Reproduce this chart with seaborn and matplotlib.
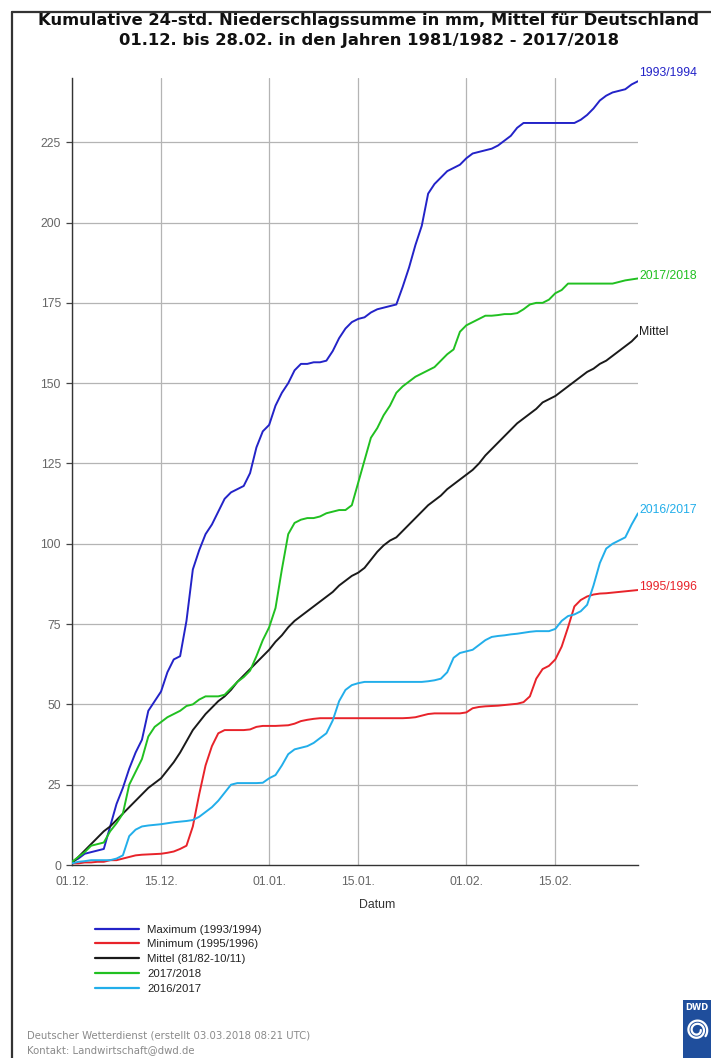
import numpy as np
import pandas as pd
import matplotlib
matplotlib.use("Agg")
import matplotlib.pyplot as plt
from matplotlib.lines import Line2D
from matplotlib.patches import Rectangle
import seaborn as sns

# Day index 0 = 01.12., 89 = 28.02.
days = list(range(90))

maximum_1993_1994 = [
    1, 2, 3.5, 4, 4.5, 5, 12, 19, 24, 30,
    35, 39, 48, 51, 54, 60, 64, 65, 76, 92,
    98, 103, 106, 110, 114, 116, 117, 118, 122, 130,
    135, 137, 143, 147, 150, 154, 156, 156, 156.5, 156.5,
    157, 160, 164, 167, 169, 170, 170.5, 172, 173, 173.5,
    174, 174.5, 180, 186, 193, 199, 209, 212, 214, 216,
    217, 218, 220, 221.5, 222, 222.5, 223, 224, 225.5, 227,
    229.5, 231, 231, 231, 231, 231, 231, 231, 231, 231,
    232, 233.5, 235.5, 238, 239.5, 240.5, 241, 241.5, 243, 244,
]

minimum_1995_1996 = [
    0.5, 0.5, 0.8, 0.8, 1, 1, 1.5, 1.5, 2, 2.5,
    3, 3.2, 3.3, 3.4, 3.5, 3.8, 4.2, 5, 6, 12,
    22, 31, 37, 41, 42, 42, 42, 42, 42.2, 43,
    43.3, 43.3, 43.3, 43.4, 43.5, 44, 44.8, 45.2, 45.5, 45.7,
    45.7, 45.7, 45.7, 45.7, 45.7, 45.7, 45.7, 45.7, 45.7, 45.7,
    45.7, 45.7, 45.7, 45.8, 46, 46.5, 47, 47.2, 47.2, 47.2,
    47.2, 47.2, 47.5, 48.8, 49.2, 49.4, 49.5, 49.6, 49.8, 50,
    50.2, 50.7, 52.5, 58, 61, 62, 64, 68, 74, 80.5,
    82.5, 83.6, 84.2, 84.5, 84.6, 84.8, 85, 85.2, 85.4, 85.6,
]

mittel_81_11 = [
    0.5, 2.5, 4.5, 6.5, 8.5, 10.5, 12, 14, 16, 18,
    20, 22, 24, 25.5, 27, 29.5, 32, 35, 38.5, 42,
    44.5, 47, 49, 51, 52.5, 54.5, 57, 59, 61, 63,
    65, 67, 69.5, 71.5, 74, 76, 77.5, 79, 80.5, 82,
    83.5, 85, 87, 88.5, 90, 91, 92.5, 95, 97.5, 99.5,
    101, 102, 104, 106, 108, 110, 112, 113.5, 115, 117,
    118.5, 120, 121.5, 123, 125, 127.5, 129.5, 131.5, 133.5, 135.5,
    137.5, 139, 140.5, 142, 144, 145, 146, 147.5, 149, 150.5,
    152, 153.5, 154.5, 156, 157, 158.5, 160, 161.5, 163, 165,
]

season_2017_2018 = [
    1, 2.5, 4, 6, 6.5, 7, 10.5, 13, 16, 25,
    29, 33, 40, 43, 44.5, 46, 47, 48, 49.5, 50,
    51.5, 52.5, 52.5, 52.5, 53, 55, 57, 58.5, 60.5, 65,
    70, 74, 80, 92, 103, 106.5, 107.5, 108, 108, 108.5,
    109.5, 110, 110.5, 110.5, 112, 119, 126, 133, 136, 140,
    143, 147, 149, 150.5, 152, 153, 154, 155, 157, 159,
    160.5, 166, 168, 169, 170, 171, 171, 171.2, 171.5, 171.5,
    171.8, 173, 174.5, 175, 175, 176, 178, 179, 181, 181,
    181, 181, 181, 181, 181, 181, 181.5, 182, 182.3, 182.6,
]

season_2016_2017 = [
    0.5, 1, 1.2, 1.5, 1.5, 1.5, 1.5, 2, 3, 9,
    11, 12, 12.3, 12.5, 12.7, 13, 13.3, 13.5, 13.7, 14,
    15, 16.5, 18, 20, 22.5, 25, 25.5, 25.5, 25.5, 25.5,
    25.6, 27, 28, 31, 34.5, 36, 36.5, 37, 38, 39.5,
    41, 45, 51, 54.5, 56, 56.6, 57, 57, 57, 57,
    57, 57, 57, 57, 57, 57, 57.2, 57.5, 58, 60,
    64.5, 66, 66.5, 67, 68.5, 70, 71, 71.3, 71.5, 71.8,
    72, 72.3, 72.6, 72.8, 72.8, 72.8, 73.5, 76, 77.5, 78,
    79, 81, 87, 94, 98.5, 100, 101, 102, 106, 109.5,
]

legend_names = [
    "Maximum (1993/1994)",
    "Minimum (1995/1996)",
    "Mittel (81/82-10/11)",
    "2017/2018",
    "2016/2017",
]
end_labels = ["1993/1994", "1995/1996", "Mittel", "2017/2018", "2016/2017"]
series_values = [maximum_1993_1994, minimum_1995_1996, mittel_81_11,
                 season_2017_2018, season_2016_2017]
line_colors = ["#2323c8", "#e8232a", "#1a1a1a", "#21c021", "#22aeea"]

tick_days = [0, 14, 31, 45, 62, 76]
tick_labels = ["01.12.", "15.12.", "01.01.", "15.01.", "01.02.", "15.02."]
y_ticks = [0, 25, 50, 75, 100, 125, 150, 175, 200, 225]

frames = []
for name, vals in zip(legend_names, series_values):
    frames.append(pd.DataFrame({"Tag": days, "mm": vals, "Reihe": name}))
data = pd.concat(frames, ignore_index=True)

sns.set_style("white")
plt.rcParams["font.family"] = ["Liberation Sans", "DejaVu Sans"]

fig = plt.figure(figsize=(7.11, 10.58), dpi=100)
ax = fig.add_axes([72 / 711, 1 - 865 / 1058, (638 - 72) / 711, (865 - 78) / 1058])

sns.lineplot(data=data, x="Tag", y="mm", hue="Reihe", hue_order=legend_names,
             palette=dict(zip(legend_names, line_colors)), linewidth=1.4,
             ax=ax, legend=False, zorder=3)

ax.set_xlim(0, 89)
ax.set_ylim(0, 245)
ax.set_xticks(tick_days)
ax.set_xticklabels(tick_labels)
ax.set_xticks(days, minor=True)
ax.set_yticks(y_ticks)
ax.set_yticklabels([str(t) for t in y_ticks])

for d in tick_days:
    ax.axvline(d, color="#b4b4b4", lw=0.9, zorder=1)
for t in y_ticks[1:]:
    ax.axhline(t, color="#b4b4b4", lw=0.9, zorder=1)

for side in ["top", "right"]:
    ax.spines[side].set_visible(False)
for side in ["left", "bottom"]:
    ax.spines[side].set_color("#333333")
    ax.spines[side].set_linewidth(1.0)

ax.tick_params(axis="x", which="major", direction="out", length=5, width=0.9,
               color="#444444", labelsize=8.8, labelcolor="#666666", pad=3)
ax.tick_params(axis="x", which="minor", direction="out", length=2.5, width=0.7,
               color="#555555")
ax.tick_params(axis="y", which="major", direction="out", length=4, width=0.9,
               color="#444444", labelsize=8.8, labelcolor="#666666", pad=4,
               left=True)
ax.set_xlabel("")
ax.set_ylabel("")

# series names at the right end of each curve
label_offsets = [6, 2, 2, 2, 2]
for lab, vals, col, off in zip(end_labels, series_values, line_colors, label_offsets):
    ax.annotate(lab, xy=(89, vals[-1]), xytext=(1, off), textcoords="offset points",
                fontsize=8.8, color=col, ha="left", va="center",
                annotation_clip=False)

fig.text(377 / 711, 1 - 905 / 1058, "Datum", fontsize=8.8, color="#333333",
         ha="center", va="center")

fig.text(369 / 711, 1 - 20 / 1058,
         "Kumulative 24-std. Niederschlagssumme in mm, Mittel für Deutschland",
         fontsize=11.8, fontweight="bold", ha="center", va="center",
         family="DejaVu Sans", color="#111111")
fig.text(369 / 711, 1 - 40 / 1058,
         "01.12. bis 28.02. in den Jahren 1981/1982 - 2017/2018",
         fontsize=11.8, fontweight="bold", ha="center", va="center",
         family="DejaVu Sans", color="#111111")

# legend block
handles = [Line2D([0], [0], color=c, lw=1.6) for c in line_colors]
fig.legend(handles, legend_names, loc="upper left",
           bbox_to_anchor=(90 / 711, 1 - 920 / 1058), frameon=False,
           fontsize=8.2, handlelength=3.9, handletextpad=0.7,
           labelspacing=0.42, borderaxespad=0, labelcolor="#222222")

fig.text(27 / 711, 1 - 1036 / 1058,
         "Deutscher Wetterdienst (erstellt 03.03.2018 08:21 UTC)",
         fontsize=7.3, color="#8a8a8a", ha="left", va="center", family="DejaVu Sans")
fig.text(27 / 711, 1 - 1050 / 1058, "Kontakt: Landwirtschaft@dwd.de",
         fontsize=7.3, color="#8a8a8a", ha="left", va="center", family="DejaVu Sans")

# page frame on the left and top
fig.add_artist(Line2D([12 / 711, 12 / 711], [0, 1 - 12 / 1058],
                      transform=fig.transFigure, color="#333333", lw=1.6))
fig.add_artist(Line2D([12 / 711, 1], [1 - 12 / 1058, 1 - 12 / 1058],
                      transform=fig.transFigure, color="#333333", lw=1.6))

# DWD badge
fig.add_artist(Rectangle((683 / 711, 0), 28 / 711, 58 / 1058,
                         transform=fig.transFigure, facecolor="#1f4e9c",
                         edgecolor="none"))
fig.text(697 / 711, 1 - 1007 / 1058, "DWD", fontsize=6, color="white",
         fontweight="bold", ha="center", va="center", family="DejaVu Sans")
theta = np.linspace(0, 4.2 * np.pi, 200)
rad = 0.9 + 1.6 * theta / (4.2 * np.pi)
sx = (697 + rad * 4.2 * np.cos(theta)) / 711
sy = 1 - (1030 + rad * 4.2 * np.sin(theta)) / 1058
fig.add_artist(Line2D(sx, sy, transform=fig.transFigure, color="white", lw=1.6))

fig.savefig("out.png", dpi=100)
